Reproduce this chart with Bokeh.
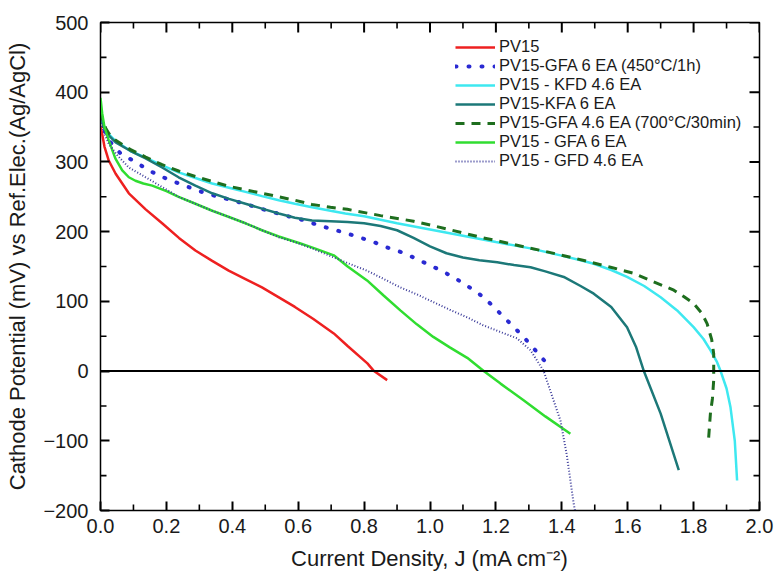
from bokeh.plotting import figure
from bokeh.models import (Range1d, Span, Legend, LegendItem, FixedTicker, ColumnDataSource)
from bokeh.embed import file_html
from bokeh.resources import INLINE

# Cathode polarisation curves: current density J (mA cm^-2) vs potential (mV vs Ag/AgCl)
pv15_j = [0.0, 0.005, 0.012, 0.025, 0.046, 0.086, 0.137, 0.187, 0.238, 0.288, 0.339,
          0.389, 0.44, 0.49, 0.54, 0.59, 0.645, 0.708, 0.75, 0.81, 0.83, 0.87]
pv15_v = [352, 340, 322, 302, 283, 255, 232, 212, 191, 173, 158,
          144, 132, 120, 106, 92, 75, 54, 36, 11, 0, -13]

gfa6_450_j = [0.0, 0.01, 0.025, 0.061, 0.106, 0.146, 0.19, 0.233, 0.278, 0.319, 0.358,
              0.40, 0.445, 0.486, 0.531, 0.57, 0.612, 0.657, 0.698, 0.738, 0.783, 0.825,
              0.865, 0.91, 0.95, 0.99, 1.035, 1.077, 1.12, 1.163, 1.204, 1.244, 1.284,
              1.325, 1.36]
gfa6_450_v = [362, 348, 331, 312, 300, 288, 278, 270, 262, 255, 250,
              245, 239, 233, 227, 222, 217, 210, 204, 199, 192, 186,
              178, 171, 163, 154, 144, 133, 120, 106, 87, 68, 49,
              27, 8]

kfd46_j = [0.0, 0.01, 0.025, 0.046, 0.09, 0.137, 0.187, 0.237, 0.288, 0.339, 0.39,
           0.44, 0.49, 0.541, 0.59, 0.642, 0.698, 0.743, 0.8, 0.9, 1.0, 1.1, 1.2,
           1.305, 1.396, 1.457, 1.497, 1.55, 1.598, 1.65, 1.70, 1.75, 1.80, 1.83,
           1.851, 1.87, 1.882, 1.90, 1.912, 1.925, 1.932]
kfd46_v = [368, 352, 340, 330, 316, 306, 295, 285, 277, 269, 263,
           257, 251, 245, 240, 235, 230, 226, 222, 212, 203, 194, 185,
           176, 166, 159, 154, 145, 135, 122, 106, 87, 63, 46,
           30, 14, 0, -25, -52, -100, -157]

kfa6_j = [0.0, 0.01, 0.025, 0.046, 0.09, 0.137, 0.187, 0.237, 0.288, 0.339, 0.39,
          0.44, 0.49, 0.541, 0.59, 0.642, 0.698, 0.75, 0.8, 0.85, 0.9, 0.95, 1.0,
          1.05, 1.10, 1.15, 1.204, 1.255, 1.305, 1.35, 1.406, 1.457, 1.497, 1.55,
          1.598, 1.625, 1.649, 1.70, 1.755]
kfa6_v = [365, 350, 338, 328, 316, 305, 292, 278, 266, 255, 247,
          240, 233, 226, 220, 216, 215, 214, 212, 208, 202, 191, 179,
          169, 163, 159, 156, 152, 149, 143, 135, 122, 111, 92,
          63, 35, 0, -61, -142]

gfa46_700_j = [0.0, 0.01, 0.025, 0.046, 0.09, 0.137, 0.187, 0.237, 0.288, 0.339, 0.39,
               0.44, 0.49, 0.541, 0.59, 0.642, 0.698, 0.749, 0.85, 0.95, 1.05, 1.153,
               1.25, 1.356, 1.447, 1.548, 1.62, 1.669, 1.74, 1.77, 1.80, 1.825, 1.841,
               1.855, 1.861, 1.861, 1.857, 1.851, 1.845]
gfa46_700_v = [372, 353, 341, 331, 318, 307, 296, 287, 279, 272, 265,
               260, 255, 250, 245, 239, 235, 232, 223, 215, 204, 192,
               182, 171, 161, 149, 140, 130, 116, 107, 97, 83, 68,
               45, 25, -13, -40, -61, -100]

gfa6_j = [0.0, 0.005, 0.012, 0.025, 0.045, 0.066, 0.086, 0.106, 0.13, 0.157, 0.2,
          0.237, 0.288, 0.339, 0.39, 0.44, 0.49, 0.541, 0.607, 0.65, 0.708, 0.75,
          0.809, 0.86, 0.91, 0.96, 1.01, 1.06, 1.113, 1.163, 1.214, 1.284, 1.35, 1.426]
gfa6_v = [392, 370, 350, 331, 305, 288, 278, 273, 269, 266, 258,
          250, 240, 230, 221, 212, 202, 193, 183, 176, 166, 150,
          130, 108, 87, 67, 49, 34, 19, 0, -18, -42, -65, -90]

gfd46_j = [0.0, 0.005, 0.012, 0.025, 0.05, 0.086, 0.137, 0.187, 0.237, 0.288, 0.339,
           0.39, 0.44, 0.49, 0.541, 0.59, 0.642, 0.708, 0.76, 0.809, 0.86, 0.91, 0.96,
           1.01, 1.06, 1.113, 1.16, 1.214, 1.264, 1.305, 1.345, 1.375, 1.396, 1.415,
           1.436, 1.44]
gfd46_v = [360, 350, 340, 326, 310, 292, 278, 264, 250, 240, 230,
           221, 212, 202, 192, 185, 176, 163, 153, 144, 132, 120, 110,
           99, 88, 77, 66, 56, 47, 30, 0, -42, -71, -120,
           -190, -200]

series_labels = ["PV15", "PV15-GFA 6 EA (450°C/1h)", "PV15 - KFD 4.6 EA", "PV15-KFA 6 EA",
                 "PV15-GFA 4.6 EA (700°C/30min)", "PV15 - GFA 6 EA", "PV15 - GFD 4.6 EA"]

x_ticks = [0.0, 0.2, 0.4, 0.6, 0.8, 1.0, 1.2, 1.4, 1.6, 1.8, 2.0]
x_minor = [0.1, 0.3, 0.5, 0.7, 0.9, 1.1, 1.3, 1.5, 1.7, 1.9]
y_ticks = [-200, -100, 0, 100, 200, 300, 400, 500]
y_minor = [-150, -50, 50, 150, 250, 350, 450]

X_MIN, X_MAX = 0.0, 2.0
Y_MIN, Y_MAX = -200, 500
FRAME_W, FRAME_H = 659, 488

FONT = "Liberation Sans"
TXT = "#1a1a1a"

p = figure(width=776, height=580, output_backend="svg", toolbar_location=None,
           x_range=Range1d(X_MIN, X_MAX), y_range=Range1d(Y_MIN, Y_MAX),
           min_border_left=100, min_border_right=17, min_border_top=22,
           min_border_bottom=70)
p.grid.visible = False
p.outline_line_color = "black"
p.outline_line_width = 1.5

p.xaxis.ticker = FixedTicker(ticks=x_ticks)
p.yaxis.ticker = FixedTicker(ticks=y_ticks)
p.xaxis.axis_label = "Current Density, J (mA cm\u207B\u00B2)"
p.yaxis.axis_label = "Cathode Potential (mV) vs Ref.Elec.(Ag/AgCl)"
for ax in p.xaxis + p.yaxis:
    ax.major_tick_in = 9
    ax.major_tick_out = 0
    ax.minor_tick_in = 0
    ax.minor_tick_out = 0
    ax.major_tick_line_color = "black"
    ax.major_tick_line_width = 2
    ax.major_label_text_font = FONT
    ax.major_label_text_color = TXT
    ax.major_label_text_font_size = "20px"
    ax.axis_label_text_font = FONT
    ax.axis_label_text_color = TXT
    ax.axis_label_text_font_size = "22px"
    ax.axis_label_text_font_style = "normal"
p.xaxis.major_label_standoff = 8
p.xaxis.axis_label_standoff = 10
p.yaxis.major_label_standoff = 12
p.yaxis.axis_label_standoff = 10
p.xaxis.major_label_overrides = {t: f"{t:.1f}" for t in x_ticks}

# inward ticks drawn as segments: minor ticks on all sides, major ticks on top and right
dx_px = (X_MAX - X_MIN) / FRAME_W
dy_px = (Y_MAX - Y_MIN) / FRAME_H


def tick_source(xs, ys, length_px, sides):
    x0, y0, x1, y1 = [], [], [], []
    for t in xs:
        if "bottom" in sides:
            x0.append(t); x1.append(t); y0.append(Y_MIN); y1.append(Y_MIN + length_px * dy_px)
        if "top" in sides:
            x0.append(t); x1.append(t); y0.append(Y_MAX); y1.append(Y_MAX - length_px * dy_px)
    for t in ys:
        if "left" in sides:
            y0.append(t); y1.append(t); x0.append(X_MIN); x1.append(X_MIN + length_px * dx_px)
        if "right" in sides:
            y0.append(t); y1.append(t); x0.append(X_MAX); x1.append(X_MAX - length_px * dx_px)
    return ColumnDataSource(dict(x0=x0, y0=y0, x1=x1, y1=y1))


p.segment("x0", "y0", "x1", "y1",
          source=tick_source(x_ticks, y_ticks, 10, ("top", "right")),
          line_color="black", line_width=2)
p.segment("x0", "y0", "x1", "y1",
          source=tick_source(x_minor, y_minor, 6, ("bottom", "top", "left", "right")),
          line_color="black", line_width=1.6)

# zero-potential reference line
p.add_layout(Span(location=0, dimension="width", line_color="black", line_width=2))

r1 = p.line(pv15_j, pv15_v, line_color="#ee2020", line_width=2.5)
r2 = p.line(gfa6_450_j, gfa6_450_v, line_color="#2a2ad2", line_width=4,
            line_dash="1 12", line_cap="round")
r3 = p.line(kfd46_j, kfd46_v, line_color="#3ee8f0", line_width=2.5)
r4 = p.line(kfa6_j, kfa6_v, line_color="#1c7878", line_width=2.5)
r5 = p.line(gfa46_700_j, gfa46_700_v, line_color="#1e6e1e", line_width=3,
            line_dash="9 7")
r6 = p.line(gfa6_j, gfa6_v, line_color="#30dd30", line_width=2.5)
r7 = p.line(gfd46_j, gfd46_v, line_color="#3c3c9a", line_width=2,
            line_dash="1 2")

renderers = [r1, r2, r3, r4, r5, r6, r7]
legend = Legend(items=[LegendItem(label=l, renderers=[r])
                       for l, r in zip(series_labels, renderers)],
                location=(355, 340), orientation="vertical",
                border_line_alpha=0, background_fill_alpha=0,
                label_text_font=FONT, label_text_font_size="16.5px",
                label_text_color=TXT, glyph_width=40, glyph_height=18,
                label_height=18, label_standoff=4, spacing=0, padding=0,
                margin=0)
p.add_layout(legend, "center")

open("out.html", "w").write(file_html(p, INLINE))
